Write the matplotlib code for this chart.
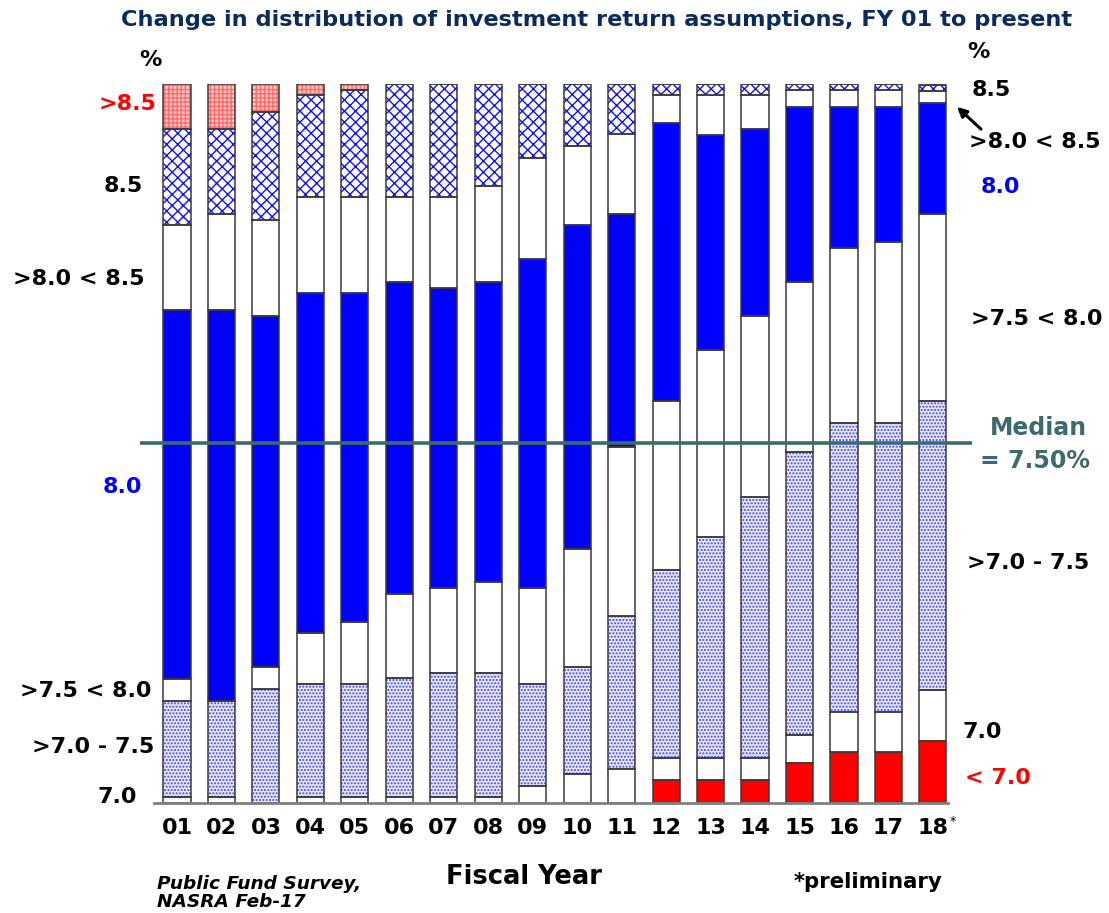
import matplotlib
matplotlib.use('Agg')
import matplotlib.pyplot as plt
import numpy as np

# ---------------- data (percent of plans, per fiscal year) ----------------
years = ['01', '02', '03', '04', '05', '06', '07', '08', '09',
         '10', '11', '12', '13', '14', '15', '16', '17', '18']
lt_70   = [0, 0, 0, 0, 0, 0, 0, 0, 0, 0, 0, 3.1, 3.1, 3.1, 5.5, 7.0, 7.0, 8.6]
eq_70   = [0.8, 0.8, 0, 0.8, 0.8, 0.8, 0.8, 0.8, 2.3, 4.0, 4.7, 3.1, 3.1, 3.1, 3.9, 5.6, 5.6, 7.1]
r70_75  = [13.3, 13.3, 15.8, 15.7, 15.7, 16.5, 17.2, 17.2, 14.2, 14.85, 21.3, 26.1, 30.8, 36.3, 39.4, 40.2, 40.2, 40.2]
r75_80  = [3.1, 0, 3.05, 7.1, 8.6, 11.7, 11.85, 12.7, 13.35, 16.45, 23.5, 23.6, 26.0, 25.2, 23.6, 24.4, 25.2, 26.0]
eq_80   = [51.3, 54.4, 48.85, 47.3, 45.8, 43.4, 41.75, 41.7, 45.75, 45.1, 32.4, 38.7, 29.9, 26.0, 24.4, 19.6, 18.8, 15.5]
r80_85  = [11.9, 13.4, 13.4, 13.4, 13.4, 11.9, 12.7, 13.4, 14.1, 11.0, 11.1, 3.8, 5.5, 4.7, 2.4, 2.4, 2.4, 1.6]
eq_85   = [13.3, 11.8, 15.0, 14.2, 14.9, 15.7, 15.7, 14.2, 10.3, 8.6, 7.0, 1.6, 1.6, 1.6, 0.8, 0.8, 0.8, 0.8]
gt_85   = [6.3, 6.3, 3.9, 1.5, 0.8, 0, 0, 0, 0, 0, 0, 0, 0, 0, 0, 0, 0, 0]
median_share = 50.0

plt.rcParams['font.family'] = ['DejaVu Sans']
plt.rcParams['hatch.linewidth'] = 1.0

W, H = 1109, 913
fig = plt.figure(figsize=(W / 100, H / 100), dpi=100)
fig.patch.set_facecolor('white')

ax = fig.add_axes([140 / W, (H - 802.5) / H, 832 / W, 718.5 / H])
x = np.arange(len(years))
bw = 0.61

series = [
    (lt_70,  '#FF0000', None, '#FF0000'),
    (eq_70,  'white',   None, 'white'),
    (r70_75, '#EAEAFC', '.....', '#4040FF'),
    (r75_80, 'white',   None, 'white'),
    (eq_80,  '#0000FF', None, '#0000FF'),
    (r80_85, 'white',   None, 'white'),
    (eq_85,  'white',   'xxx', '#1010FF'),
    (gt_85,  '#FBC8C8', '++++', '#FF6A6A'),
]

bottom = np.zeros(len(years))
for vals, fc, hatch, hc in series:
    v = np.array(vals, dtype=float)
    ax.bar(x, v, bw, bottom=bottom, color=fc, hatch=hatch, edgecolor=hc,
           linewidth=0, zorder=2)
    ax.bar(x, v, bw, bottom=bottom, fill=False, edgecolor='#3a3a3a',
           linewidth=1.1, zorder=3)
    bottom += v

ax.set_xlim(-0.832, 17.88)
ax.set_ylim(0, 100)
for s in ax.spines.values():
    s.set_visible(False)
ax.set_yticks([])
ax.set_xticks(x)
ax.set_xticklabels(years, fontsize=16, fontweight='bold')
ax.tick_params(axis='x', length=0, pad=11)
ax.patch.set_alpha(0)

# baseline and median line
ax.plot([-0.517, 17.34], [0, 0], color='#808080', lw=2, clip_on=False, zorder=4)
ax.axhline(median_share, color='#3D6B6B', lw=2.6, zorder=5)


def fp(px, py):
    return px / W, 1 - py / H


def t(px, py, s, **kw):
    kw.setdefault('fontsize', 16)
    kw.setdefault('fontweight', 'bold')
    kw.setdefault('ha', 'center')
    kw.setdefault('va', 'center')
    fig.text(*fp(px, py), s, **kw)


t(597, 20, 'Change in distribution of investment return assumptions, FY 01 to present',
  fontsize=16.2, color='#0C2A5E')

# left labels
t(150, 60, '%', fontsize=16)
t(128, 104, '>8.5', color='#FF0000')
t(123, 186, '8.5')
t(79, 279, '>8.0 < 8.5')
t(122, 487, '8.0', color='#0000FF')
t(86, 691, '>7.5 < 8.0')
t(93, 747, '>7.0 - 7.5')
t(117, 797, '7.0')

# right labels
t(978, 52, '%', fontsize=16)
t(991, 90, '8.5')
t(1035, 142, '>8.0 < 8.5')
t(1000, 187, '8.0', color='#0000FF')
t(1037, 319, '>7.5 < 8.0')
t(1038, 428, 'Median', color='#3D6B6B', fontsize=17)
t(1035, 461, '= 7.50%', color='#3D6B6B', fontsize=17)
t(1028, 563, '>7.0 - 7.5')
t(982, 732, '7.0')
t(998, 778, '< 7.0', color='#FF0000')

fig.add_artist(matplotlib.patches.FancyArrowPatch(
    fp(983, 131), fp(955, 105), transform=fig.transFigure,
    arrowstyle='-|>', mutation_scale=14, color='black', lw=2.2))

# bottom texts
t(953, 821, '*', fontsize=9, fontweight='normal')
t(524, 877, 'Fiscal Year', fontsize=18.5)
t(157, 893, 'Public Fund Survey,\nNASRA Feb-17', fontsize=13.3, style='italic',
  ha='left', linespacing=1.0)
t(868, 882, '*preliminary', fontsize=15.3)

fig.savefig('out.png', dpi=100)
